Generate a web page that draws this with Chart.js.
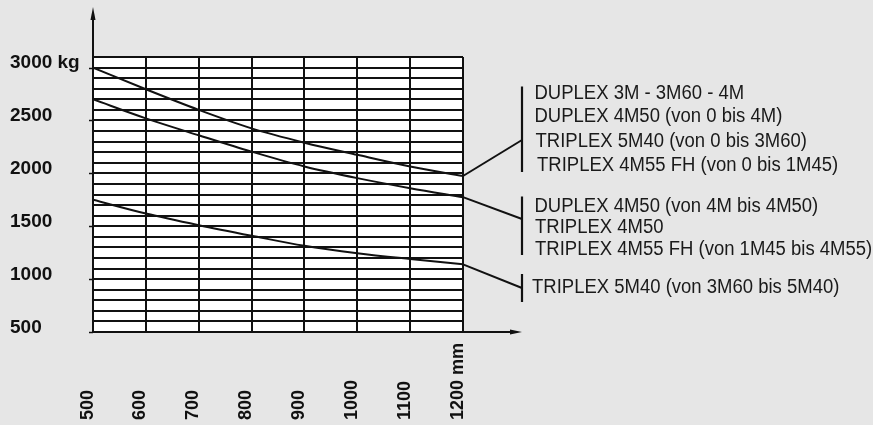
<!DOCTYPE html>
<html><head><meta charset="utf-8">
<script src="https://cdn.jsdelivr.net/npm/chart.js@4/dist/chart.umd.min.js"></script>
<style>html,body{margin:0;padding:0;background:#e6e6e6;overflow:hidden}#wrap{width:873px;height:425px;position:relative}</style>
</head><body><div id="wrap"><canvas id="c" width="873" height="425"></canvas></div>
<script>
// ---- data ----
const lengthsMm = [500, 600, 700, 800, 900, 1000, 1100, 1200];
const capacityUpper = [3000, 2795, 2600, 2425, 2290, 2175, 2065, 1975];
const capacityMiddle = [2700, 2520, 2360, 2205, 2065, 1955, 1860, 1775];
const capacityLower = [1750, 1620, 1510, 1410, 1315, 1245, 1190, 1140];
const yTickValues = [500, 1000, 1500, 2000, 2500, 3000];
const yTickLabels = ['500', '1000', '1500', '2000', '2500', '3000 kg'];
const xTickValues = [500, 600, 700, 800, 900, 1000, 1100, 1200];
const xTickLabels = ['500', '600', '700', '800', '900', '1000', '1100', '1200 mm'];
const groupUpperLabels = ['DUPLEX 3M - 3M60 - 4M', 'DUPLEX 4M50 (von 0 bis 4M)', 'TRIPLEX 5M40 (von 0 bis 3M60)', 'TRIPLEX 4M55 FH (von 0 bis 1M45)'];
const groupMiddleLabels = ['DUPLEX 4M50 (von 4M bis 4M50)', 'TRIPLEX 4M50', 'TRIPLEX 4M55 FH (von 1M45 bis 4M55)'];
const groupLowerLabels = ['TRIPLEX 5M40 (von 3M60 bis 5M40)'];

const toPts = arr => arr.map((v, i) => ({x: lengthsMm[i], y: v}));
const INK = '#111111';

const decor = {
  id: 'decor',
  beforeDraw(chart) {
    const {ctx, chartArea: a} = chart;
    ctx.save();
    ctx.fillStyle = '#e6e6e6';
    ctx.fillRect(0, 0, chart.width, chart.height);
    ctx.fillStyle = '#ffffff';
    ctx.fillRect(a.left, a.top, a.right - a.left, a.bottom - a.top);
    ctx.restore();
  },
  afterDraw(chart) {
    const {ctx, chartArea: a, scales: {x, y}} = chart;
    ctx.save();
    ctx.strokeStyle = INK; ctx.fillStyle = INK;
    // y axis with arrow
    ctx.lineWidth = 2;
    ctx.beginPath(); ctx.moveTo(a.left, a.bottom); ctx.lineTo(a.left, 16); ctx.stroke();
    ctx.beginPath(); ctx.moveTo(a.left, 7); ctx.lineTo(a.left - 2.5, 20); ctx.lineTo(a.left + 2.5, 20); ctx.closePath(); ctx.fill();
    // x axis with arrow
    ctx.beginPath(); ctx.moveTo(a.left, a.bottom); ctx.lineTo(514, a.bottom); ctx.stroke();
    ctx.beginPath(); ctx.moveTo(522, a.bottom); ctx.lineTo(510, a.bottom - 2.5); ctx.lineTo(510, a.bottom + 2.5); ctx.closePath(); ctx.fill();
    // small left ticks
    ctx.lineWidth = 1.5;
    yTickValues.forEach(v => {
      const py = Math.round(y.getPixelForValue(v)) + 0.5;
      ctx.beginPath(); ctx.moveTo(a.left - 4, py); ctx.lineTo(a.left, py); ctx.stroke();
    });
    // y labels
    ctx.font = 'bold 19px "Liberation Sans", Arial, sans-serif';
    ctx.textAlign = 'left'; ctx.textBaseline = 'alphabetic';
    yTickValues.forEach((v, i) => {
      ctx.fillText(yTickLabels[i], 10, y.getPixelForValue(v) + 0.5);
    });
    // x labels (rotated)
    ctx.font = 'bold 18px "Liberation Sans", Arial, sans-serif';
    xTickValues.forEach((v, i) => {
      const px = x.getPixelForValue(v);
      ctx.save();
      ctx.translate(px - 0.5, 420);
      ctx.rotate(-Math.PI / 2);
      ctx.textAlign = 'left'; ctx.textBaseline = 'alphabetic';
      ctx.fillText(xTickLabels[i], 0, 0);
      ctx.restore();
    });
    // annotations
    const barX = 522;
    const groups = [
      {series: capacityUpper, top: 86.5, bottom: 172, target: 140, labels: groupUpperLabels,
       pos: [[534.5, 92], [534.5, 115.5], [535.5, 140], [537, 164]]},
      {series: capacityMiddle, top: 196.5, bottom: 255, target: 219, labels: groupMiddleLabels,
       pos: [[534.5, 205], [535, 226.5], [535, 248.3]]},
      {series: capacityLower, top: 274, bottom: 302, target: 288, labels: groupLowerLabels,
       pos: [[532, 286.5]]}
    ];
    groups.forEach(g => {
      const last = g.series.length - 1;
      const sx = x.getPixelForValue(lengthsMm[last]);
      const sy = y.getPixelForValue(g.series[last]);
      ctx.strokeStyle = INK;
      ctx.lineWidth = 2;
      ctx.beginPath(); ctx.moveTo(sx, sy); ctx.lineTo(barX, g.target); ctx.stroke();
      ctx.lineWidth = 2.2;
      ctx.beginPath(); ctx.moveTo(barX, g.top); ctx.lineTo(barX, g.bottom); ctx.stroke();
      ctx.fillStyle = '#1a1a1a';
      g.labels.forEach((t, i) => {
        ctx.save();
        ctx.translate(g.pos[i][0], g.pos[i][1] + 1);
        ctx.scale(1, 1.08);
        ctx.font = '18.5px "Liberation Sans", Arial, sans-serif';
        ctx.textAlign = 'left'; ctx.textBaseline = 'middle';
        ctx.fillText(t, 0, 0);
        ctx.restore();
      });
    });
    ctx.restore();
  }
};

const lineDs = (label, arr) => ({
  label, data: toPts(arr), borderColor: INK, borderWidth: 2, pointRadius: 0,
  fill: false, cubicInterpolationMode: 'monotone'
});

new Chart(document.getElementById('c'), {
  type: 'line',
  data: {datasets: [
    lineDs('upper', capacityUpper),
    lineDs('middle', capacityMiddle),
    lineDs('lower', capacityLower)
  ]},
  options: {
    responsive: false, animation: false, devicePixelRatio: 1,
    layout: {padding: {left: 93, right: 410, top: 57, bottom: 93}},
    plugins: {legend: {display: false}, tooltip: {enabled: false}},
    scales: {
      x: {type: 'linear', min: 500, max: 1200,
          ticks: {display: false, stepSize: 100},
          grid: {color: INK, lineWidth: 2, drawTicks: false},
          border: {display: false}},
      y: {type: 'linear', min: 500, max: 3100,
          ticks: {display: false, stepSize: 100},
          grid: {color: INK, lineWidth: 2, drawTicks: false},
          border: {display: false}}
    }
  },
  plugins: [decor]
});
</script></body></html>
